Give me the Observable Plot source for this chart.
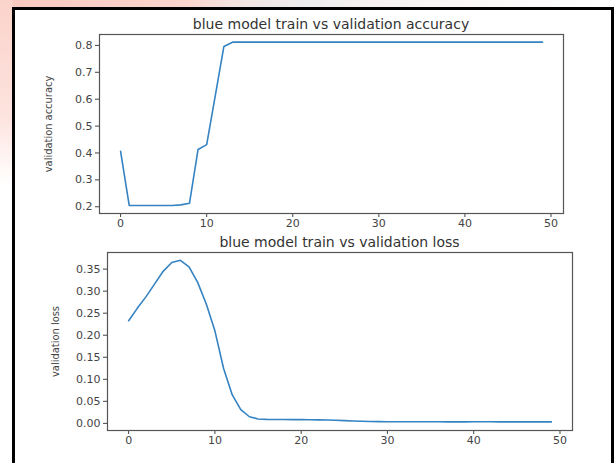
<!DOCTYPE html>
<html>
<head>
<meta charset="utf-8">
<script src="https://cdn.jsdelivr.net/npm/d3@7"></script>
<script src="https://cdn.jsdelivr.net/npm/@observablehq/plot@0.6"></script>
<style>
  html, body { margin: 0; padding: 0; background: #ffffff; }
  #page { position: relative; width: 616px; height: 463px; overflow: hidden; background: #ffffff; }
  #bgTop { position: absolute; left: 0; top: 0; width: 616px; height: 8px;
    background: linear-gradient(90deg, #f9c8be 0%, #fbd6cf 30%, #f3e6e3 40%, #eeeeee 50%, #f7f2f1 60%, #ffffff 100%); }
  #bgLeft { position: absolute; left: 0; top: 0; width: 13px; height: 463px;
    background: linear-gradient(180deg, #fbd3cb 0%, #fde3de 25%, #ffffff 40%, #ffffff 100%); }
  #box { position: absolute; left: 12px; top: 7px; width: 596px; height: 470px;
    border: 3px solid #000; border-bottom: none; background: #ffffff; }
  .plotsvg { position: absolute; left: 0; }
  .title { position: absolute; font-family: "DejaVu Sans", sans-serif; font-size: 14px; color: #333;
    white-space: nowrap; transform: translateX(-50%); line-height: 14px; }
</style>
</head>
<body>
<div id="page">
  <div id="bgTop"></div>
  <div id="bgLeft"></div>
  <div id="box"></div>
</div>
<script>
const epochs = [0,1,2,3,4,5,6,7,8,9,10,11,12,13,14,15,16,17,18,19,20,21,22,23,24,25,26,27,28,29,30,31,32,33,34,35,36,37,38,39,40,41,42,43,44,45,46,47,48,49];
const accuracy = [0.406,0.205,0.205,0.205,0.205,0.205,0.205,0.207,0.213,0.413,0.431,0.613,0.796,0.812,0.812,0.812,0.812,0.812,0.812,0.812,0.812,0.812,0.812,0.812,0.812,0.812,0.812,0.812,0.812,0.812,0.812,0.812,0.812,0.812,0.812,0.812,0.812,0.812,0.812,0.812,0.812,0.812,0.812,0.812,0.812,0.812,0.812,0.812,0.812,0.812];
const loss = [0.233,0.261,0.287,0.316,0.345,0.365,0.370,0.355,0.320,0.271,0.210,0.125,0.065,0.031,0.015,0.010,0.009,0.0088,0.0086,0.0085,0.0084,0.0082,0.0080,0.0076,0.0070,0.0062,0.0055,0.0048,0.0043,0.0040,0.0038,0.0037,0.0036,0.0036,0.0035,0.0035,0.0035,0.0034,0.0034,0.0034,0.0035,0.0036,0.0035,0.0034,0.0034,0.0033,0.0033,0.0033,0.0033,0.0033];
const xTicks = [0,10,20,30,40,50];
const accTicks = [0.2,0.3,0.4,0.5,0.6,0.7,0.8];
const lossTicks = [0.00,0.05,0.10,0.15,0.20,0.25,0.30,0.35];
const titles = ["blue model train vs validation accuracy", "blue model train vs validation loss"];
const yLabels = ["validation accuracy", "validation loss"];

const lineColor = "#3583c2";
const page = document.getElementById("page");

function makeChart({values, yDomain, yTicks, yFormat, yLabel, title, top, height, mt, mb, ml, mr, labelOffset}) {
  const rows = epochs.map((e, i) => ({epoch: e, value: values[i]}));
  const svg = Plot.plot({
    width: 616,
    height,
    marginTop: mt,
    marginBottom: mb,
    marginLeft: ml,
    marginRight: mr,
    style: {fontFamily: "DejaVu Sans, sans-serif", fontSize: "11px", color: "#444", background: "transparent", overflow: "visible"},
    x: {domain: [-2.45, 51.45], ticks: xTicks, tickFormat: d3.format("d"), label: null, tickSize: 4, tickPadding: 2},
    y: {domain: yDomain, ticks: yTicks, tickFormat: d3.format(yFormat), label: yLabel, labelAnchor: "center",
        labelArrow: "none", labelOffset, tickSize: 4, tickPadding: 3},
    marks: [
      Plot.frame({stroke: "#555", strokeWidth: 1.2}),
      Plot.line(rows, {x: "epoch", y: "value", stroke: lineColor, strokeWidth: 1.6})
    ]
  });
  svg.classList.add("plotsvg");
  svg.style.top = top + "px";
  const lab = svg.querySelector('[aria-label="y-axis label"]');
  if (lab) {
    lab.setAttribute("font-family", "Liberation Sans Narrow, DejaVu Sans Condensed, sans-serif");
    lab.style.fontFamily = "Liberation Sans Narrow, DejaVu Sans Condensed, sans-serif";
    lab.style.fontSize = "11px";
    lab.querySelectorAll("text").forEach(t => { t.textContent = t.textContent.replace(/[↑↓]\s*/g, ""); });
  }
  page.appendChild(svg);
  const t = document.createElement("div");
  t.className = "title";
  t.textContent = title;
  t.style.left = (ml + (616 - ml - mr) / 2) + "px";
  t.style.top = (top + mt - 17) + "px";
  page.appendChild(t);
}

makeChart({values: accuracy, yDomain: [0.175, 0.8405], yTicks: accTicks, yFormat: ".1f", yLabel: yLabels[0],
  title: titles[0], top: 0, height: 230, mt: 34, mb: 17, ml: 99, mr: 53, labelOffset: 55});
makeChart({values: loss, yDomain: [-0.0162, 0.3877], yTicks: lossTicks, yFormat: ".2f", yLabel: yLabels[1],
  title: titles[1], top: 230, height: 233, mt: 22, mb: 33, ml: 107, mr: 44, labelOffset: 56});
</script>
</body>
</html>
